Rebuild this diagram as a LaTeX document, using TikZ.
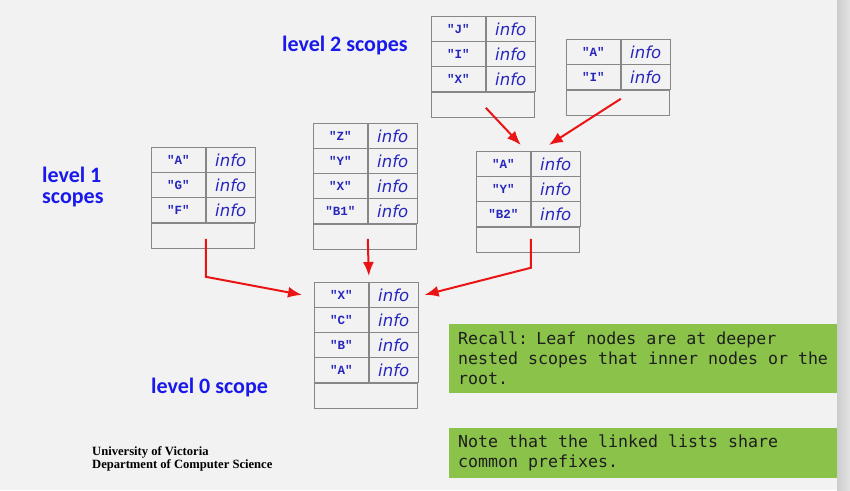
\documentclass[tikz,border=0pt]{standalone}
\usepackage{fontspec}
\setmainfont{Liberation Serif}
\newfontfamily\labelfont{Carlito}
\newfontfamily\keyfont{Liberation Mono}[Ligatures=TeXOff]
\newfontfamily\infofont{DejaVu Sans}
\newfontfamily\notefont{DejaVu Sans Mono}
\usepackage{xcolor}
\usepackage{tikz}
\usetikzlibrary{arrows.meta}

\definecolor{slidebg}{RGB}{242,242,242}
\definecolor{tabgray}{RGB}{135,135,135}
\definecolor{inkblue}{RGB}{38,38,190}
\definecolor{levelblue}{RGB}{25,25,235}
\definecolor{notegreen}{RGB}{139,195,74}
\definecolor{notetext}{RGB}{30,30,30}
\definecolor{linkred}{RGB}{235,20,20}

\begin{document}
\begin{tikzpicture}[x = 1pt, y = -1pt,
    cell/.style = {draw = tabgray, line width = .8pt, minimum height = 25pt,
        inner sep = 0pt, anchor = north west},
    keycell/.style = {cell, minimum width = 54pt, text = inkblue,
        font = \keyfont\bfseries\fontsize{12.5}{14}\selectfont},
    infocell/.style = {cell, minimum width = 49pt, text = inkblue,
        font = \infofont\itshape\fontsize{16.5}{18}\selectfont},
    nilcell/.style = {cell, minimum width = 103pt},
    level/.style = {text = levelblue, inner sep = 0pt, align = left,
        font = \labelfont\bfseries\fontsize{22}{21.5}\selectfont},
    note/.style = {fill = notegreen, anchor = north west, text = notetext,
        minimum width = 388pt, text width = 370pt, inner xsep = 9pt,
        inner ysep = 0pt, align = left,
        font = \notefont\fontsize{16.6}{20}\selectfont,
        execute at begin node = {\spaceskip=10pt\relax}},
    link/.style = {-{Latex[length = 14pt, width = 11pt]}, linkred, line width = 2pt}]

    %% slide
    \fill[slidebg] (0, 0) rectangle (850, 490);
    \useasboundingbox (0, 0) rectangle (850, 490);
    \shade[left color = black!20, right color = black!11] (837, 0) rectangle (850, 490);

    %% symbol tables
    \foreach \tab/\x/\y/\n/\keys in {t2a/431/16/3/{J,I,X}, t2b/566/39/2/{A,I},
        t1a/151/147/3/{A,G,F}, t1b/313/123/4/{Z,Y,X,B1},
        t1c/476/151/3/{A,Y,B2}, t0/314/282/4/{X,C,B,A}} {
        \foreach \k [count = \i] in \keys {
            \node[keycell] (\tab-k\i) at (\x, {\y + 25*(\i - 1)}) {"\k"};
            \node[infocell] (\tab-i\i) at (\tab-k\i.north east) {info};
        }
        \node[nilcell] (\tab-nil) at (\tab-k\n.south west) {};
    }

    %% labels
    \node[level, anchor = base west] (lev2) at (282, 51) {level 2 scopes};
    \node[level, anchor = west] (lev1) at (42, 187) {level 1\\scopes};
    \node[level, anchor = base west] (lev0) at (151, 393) {level 0 scope};
    \node[anchor = north west, inner sep = 0pt, align = left,
        font = \bfseries\fontsize{12.6}{13.5}\selectfont] (uvic) at (92, 446)
        {University of Victoria\\Department of Computer Science};

    %% links
    \draw[link] ([yshift = -16pt]t1a-k3.south east) -- ([yshift = -54pt]t1a-k3.south east)
        -- ([xshift = -12pt]t0-k1.west);
    \draw[link] ([yshift = -15pt]t1b-k4.south east) -- ([yshift = 6pt]t0-k1.north east);
    \draw[link] ([yshift = -12pt]t1c-k3.south east) -- ([yshift = -41pt]t1c-k3.south east)
        -- ([xshift = 6pt]t0-i1.east);
    \draw[link] ([yshift = -16pt]t2a-k3.south east) -- ([xshift = -10pt, yshift = 6pt]t1c-k1.north east);
    \draw[link] ([yshift = -9pt]t2b-k2.south east) -- ([xshift = 18pt, yshift = 6pt]t1c-k1.north east);

    %% notes
    \node[note, minimum height = 69pt] (recall) at (449, 324)
        {Recall: Leaf nodes are at deeper\\nested scopes that inner nodes or the\\root.};
    \node[note, minimum height = 50pt] (prefix) at (449, 428)
        {Note that the linked lists share\\common prefixes.};
\end{tikzpicture}
\end{document}
